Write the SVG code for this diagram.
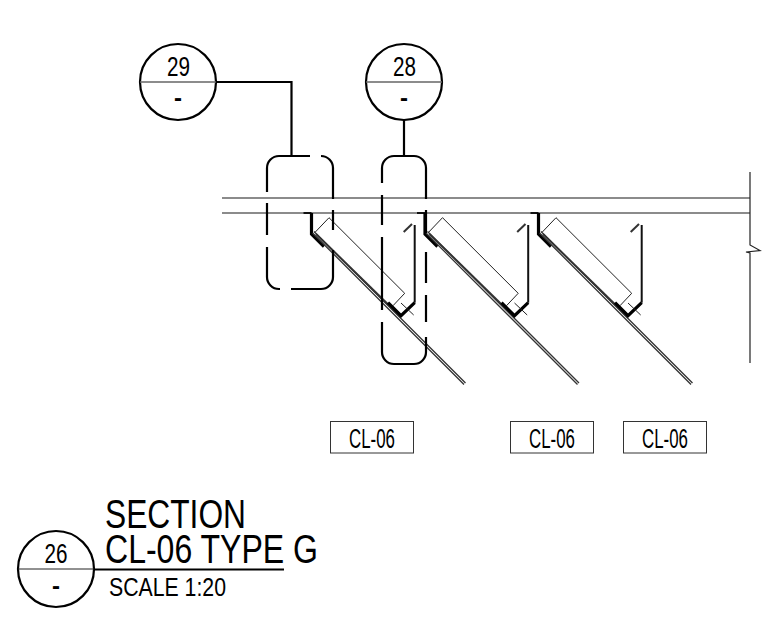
<svg xmlns="http://www.w3.org/2000/svg" width="767" height="636" viewBox="0 0 767 636">
<style>
text{font-family:"Liberation Sans",Arial,sans-serif;fill:#000;text-anchor:middle}
.c{fill:#fff;stroke:#000;stroke-width:2.2}
.l{stroke:#000;stroke-width:2.2;fill:none}
.h{stroke:#666;stroke-width:1.4;fill:none}
.t{stroke:#000;stroke-width:3.2;fill:none}
.m{stroke:#111;stroke-width:2;fill:none}
.f{stroke:#222;stroke-width:1;fill:none}
.b{fill:#fff;stroke:#333;stroke-width:1}
</style>
<defs>
<g id="mod">
<path class="m" d="M303.500 213H311.500" />
<path class="t" d="M311.500 213V234L324 246.500" />
<path class="f" d="M314.700 232.700L329 217.700L404.700 293.300L393 305.700" />
<path d="M314 231.500L465.500 383M312.500 233L464 384.500" stroke="#333" stroke-width="1.300" fill="none"/>
<path d="M316 234L401 317" stroke="#333" stroke-width="2" fill="none"/>
<path class="t" d="M388 302.700L401 315.700L414.700 302.700" />
<path class="m" d="M414.700 302.700V225" />
<path d="M403.700 232L412 224" stroke="#333" stroke-width="2" fill="none"/>
<path class="f" d="M401 303L413.700 315" />
</g>
</defs>
<g id="structure">
<path class="h" d="M222 198H750M222 213H750" />
<path d="M750 172V245L760 250.500L746 252L750 253V363" stroke="#222" stroke-width="1.200" fill="none"/>
</g>
<g id="module-1"><use href="#mod"/></g>
<g id="module-2"><use href="#mod" x="113.500"/></g>
<g id="module-3"><use href="#mod" x="227"/></g>
<g id="connectors">
<path class="l" d="M216 82H291.500V156M404 120V156" />
<path class="l" d="M310 156H279A12 12 0 0 0 267 168V192M267 203V235M267 247V277A12 12 0 0 0 279 289H280M291 289H321A12 12 0 0 0 333 277V250M333 230V210M333 199V168A12 12 0 0 0 321 156" />
<path class="l" d="M382 183V168A12 12 0 0 1 394 156H414A12 12 0 0 1 426 168V199M426 210V233M426 252V283M426 295V322M426 337V352A12 12 0 0 1 414 364H394A12 12 0 0 1 382 352V322M382 310V237M382 225V195" />
</g>
<g id="bubble-29"><circle class="c" cx="178" cy="82" r="38"/><path class="h" d="M140 82H216"/><text x="178.500" y="76" font-size="27" textLength="23" lengthAdjust="spacingAndGlyphs">29</text><text x="178" y="106" font-size="24" font-weight="bold">-</text></g>
<g id="bubble-28"><circle class="c" cx="404" cy="82" r="38"/><path class="h" d="M366 82H442"/><text x="404.500" y="76" font-size="27" textLength="23" lengthAdjust="spacingAndGlyphs">28</text><text x="404" y="106" font-size="24" font-weight="bold">-</text></g>
<g id="tag-1"><rect class="b" x="330.500" y="421.500" width="83" height="31.500"/><text x="372" y="448" font-size="27" textLength="46" lengthAdjust="spacingAndGlyphs">CL-06</text></g>
<g id="tag-2"><rect class="b" x="510.500" y="421.500" width="83" height="31.500"/><text x="552" y="448" font-size="27" textLength="46" lengthAdjust="spacingAndGlyphs">CL-06</text></g>
<g id="tag-3"><rect class="b" x="623.500" y="421.500" width="83" height="31.500"/><text x="665" y="448" font-size="27" textLength="46" lengthAdjust="spacingAndGlyphs">CL-06</text></g>
<g id="title">
<circle class="c" cx="56" cy="569" r="38"/>
<path d="M18 569H94" stroke="#222" stroke-width="1"/>
<path d="M94 569.500H284" stroke="#000" stroke-width="2.200"/>
<text x="56" y="563" font-size="27" textLength="23" lengthAdjust="spacingAndGlyphs">26</text>
<text x="56" y="594" font-size="24" font-weight="bold">-</text>
<text x="175.500" y="528" font-size="40" textLength="141" lengthAdjust="spacingAndGlyphs">SECTION</text>
<text x="211.500" y="563" font-size="40" textLength="213" lengthAdjust="spacingAndGlyphs">CL-06 TYPE G</text>
<text x="167.500" y="596" font-size="25" textLength="117" lengthAdjust="spacingAndGlyphs">SCALE 1:20</text>
</g>
</svg>
